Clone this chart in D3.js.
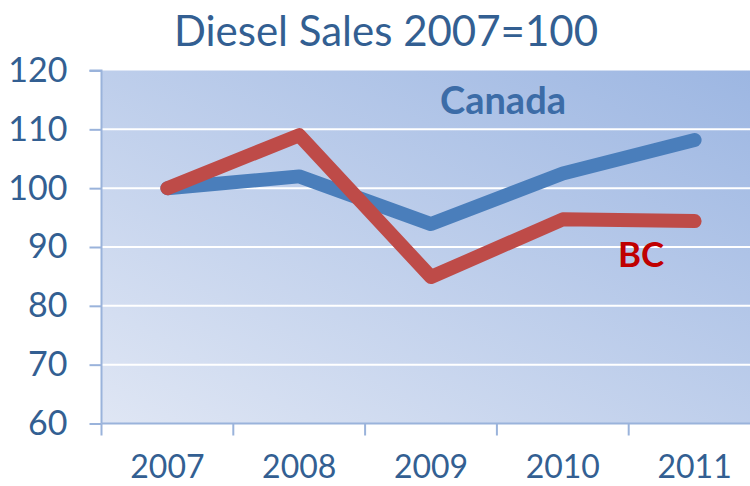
<!DOCTYPE html>
<html>
<head>
<meta charset="utf-8">
<script src="https://cdn.jsdelivr.net/npm/d3@7"></script>
<style>
  body { margin: 0; background: #ffffff; }
  svg { display: block; font-family: Lato, "Open Sans", sans-serif; }
</style>
</head>
<body>
<div id="chart-area"></div>
<script>
// chart values
var years = ["2007", "2008", "2009", "2010", "2011"];
var canada = [100, 102, 93.9, 102.5, 108.2];
var bc = [100, 109, 84.9, 94.7, 94.4];
var yTicks = [60, 70, 80, 90, 100, 110, 120];

var W = 750, H = 486;
var margin = { left: 101.5, right: -10.5, top: 70.5, bottom: 62.5 };
var width = W - margin.left - margin.right;
var height = H - margin.top - margin.bottom;

var svg = d3.select("#chart-area")
  .append("svg")
  .attr("width", W)
  .attr("height", H);

var defs = svg.append("defs");
var grad = defs.append("linearGradient")
  .attr("id", "bg")
  .attr("x1", "0%").attr("y1", "100%")
  .attr("x2", "100%").attr("y2", "0%");
grad.append("stop").attr("offset", "0%").attr("stop-color", "#dfe6f4");
grad.append("stop").attr("offset", "100%").attr("stop-color", "#9cb6e2");

var xscale = d3.scaleBand().domain(years).range([0, width]);
var yscale = d3.scaleLinear().domain([60, 120]).range([height, 0]);

// title
svg.append("text")
  .attr("x", 386)
  .attr("y", 46)
  .attr("text-anchor", "middle")
  .attr("font-size", "42px")
  .attr("fill", "#335f92")
  .text("Diesel Sales 2007=100");

var g = svg.append("g")
  .attr("transform", "translate(" + margin.left + "," + margin.top + ")");

g.append("rect")
  .attr("width", width)
  .attr("height", height)
  .attr("fill", "url(#bg)");

// gridlines
g.selectAll(".grid")
  .data(yTicks.filter(function (d) { return d > 60 && d < 120; }))
  .enter()
  .append("line")
  .attr("class", "grid")
  .attr("x1", 0)
  .attr("x2", width)
  .attr("y1", function (d) { return yscale(d); })
  .attr("y2", function (d) { return yscale(d); })
  .attr("stroke", "#ffffff")
  .attr("stroke-width", 2);

var axisColor = "#9ab3db";
var labelColor = "#335f92";

var yAxis = d3.axisLeft(yscale).tickValues(yTicks).tickSize(12).tickPadding(22);
var ya = g.append("g").attr("class", "y-axis").call(yAxis);
ya.select(".domain").attr("stroke", axisColor).attr("stroke-width", 2)
  .attr("d", "M-12,0H0V" + height);
ya.selectAll(".tick line").attr("stroke", axisColor).attr("stroke-width", 2);
ya.selectAll(".tick text")
  .attr("fill", labelColor)
  .attr("font-size", "34px")
  .attr("font-family", "Lato, sans-serif");

var xAxis = d3.axisBottom(xscale).tickSize(12).tickPadding(20);
var xa = g.append("g")
  .attr("class", "x-axis")
  .attr("transform", "translate(0," + height + ")")
  .call(xAxis);
xa.select(".domain").attr("stroke", axisColor).attr("stroke-width", 2)
  .attr("d", "M0,0H" + width);
xa.selectAll(".tick line")
  .attr("stroke", axisColor)
  .attr("stroke-width", 2)
  .attr("transform", function () {
    return "translate(" + (-xscale.bandwidth() / 2) + ",0)";
  });
xa.selectAll(".tick text")
  .attr("fill", labelColor)
  .attr("font-size", "32px")
  .attr("font-family", "Lato, sans-serif");

var line = d3.line()
  .x(function (d, i) { return xscale(years[i]) + xscale.bandwidth() / 2; })
  .y(function (d) { return yscale(d); });

g.append("path")
  .datum(canada)
  .attr("d", line)
  .attr("fill", "none")
  .attr("stroke", "#4a7ebb")
  .attr("stroke-width", 14)
  .attr("stroke-linejoin", "round")
  .attr("stroke-linecap", "round");

g.append("path")
  .datum(bc)
  .attr("d", line)
  .attr("fill", "none")
  .attr("stroke", "#be4b48")
  .attr("stroke-width", 14)
  .attr("stroke-linejoin", "round")
  .attr("stroke-linecap", "round");

// series labels
svg.append("text")
  .attr("x", 503)
  .attr("y", 114)
  .attr("text-anchor", "middle")
  .attr("font-size", "38px")
  .attr("font-weight", "bold")
  .attr("fill", "#3c6ca7")
  .text("Canada");

svg.append("text")
  .attr("x", 641)
  .attr("y", 267)
  .attr("text-anchor", "middle")
  .attr("font-size", "35px")
  .attr("font-weight", "bold")
  .attr("fill", "#c00000")
  .text("BC");
</script>
</body>
</html>
